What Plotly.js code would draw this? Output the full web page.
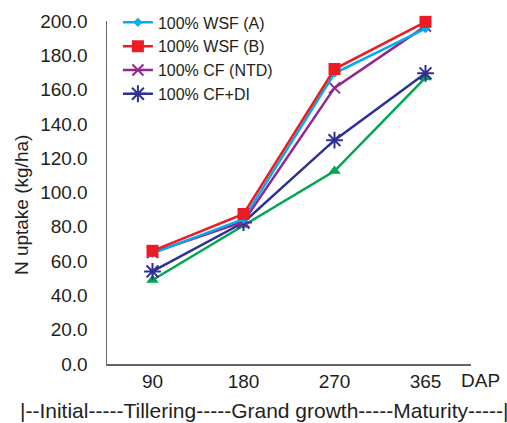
<!DOCTYPE html>
<html><head><meta charset="utf-8">
<script src="https://cdn.plot.ly/plotly-3.0.1.min.js"></script>
<style>html,body{margin:0;padding:0;background:#fff}</style>
</head><body>
<div id="chart" style="width:507px;height:423px"></div>
<script>
const categories = ['90', '180', '270', '365'];
const wsfA = [64.5, 84.5, 169.5, 195.5];
const wsfB = [66, 87.5, 172, 199.5];
const cfNTD = [65, 83, 161, 197];
const cfDI = [54, 82.5, 130.5, 169.5];
const unlabeled = [49, 81, 112.5, 167];
const seriesNames = ['100% WSF (A)', '100% WSF (B)', '100% CF (NTD)', '100% CF+DI'];
const yTitle = 'N uptake (kg/ha)';
const dapLabel = 'DAP';
const stageLabel = '|--Initial-----Tillering-----Grand growth-----Maturity-----|';

const txt = '#231f20';
const fam = 'Liberation Sans, Arial, sans-serif';
const font = {family: fam, size: 19, color: txt};

function tr(y, name, color, symbol, size, show, rank, mline) {
  return {x: categories, y: y, name: name, type: 'scatter', mode: 'lines+markers',
    showlegend: show, legendrank: rank, cliponaxis: false,
    line: {color: color, width: 2.5},
    marker: {color: color, symbol: symbol, size: size, line: {color: color, width: mline || 0}}};
}
const data = [
  tr(unlabeled, 'series 5', '#00A651', 'triangle-up', 11, false, 5),
  tr(cfDI, seriesNames[3], '#2E3192', 'asterisk-open', 14, true, 4, 2),
  tr(cfNTD, seriesNames[2], '#92278F', 'x-thin-open', 11, true, 3, 2),
  tr(wsfA, seriesNames[0], '#00AEEF', 'diamond', 7, true, 1),
  tr(wsfB, seriesNames[1], '#ED1C24', 'square', 12, true, 2)
];
const layout = {
  width: 507, height: 423,
  margin: {l: 107, r: 36, t: 0, b: 59},
  paper_bgcolor: '#fff', plot_bgcolor: '#fff',
  font: font,
  showlegend: true,
  legend: {x: 0.03, y: 0.985, xanchor: 'left', yanchor: 'top',
    bgcolor: 'rgba(0,0,0,0)',
    font: {family: fam, size: 16, color: txt}, traceorder: 'normal', tracegroupgap: 0,
    itemwidth: 30},
  xaxis: {type: 'category', range: [-0.5, 3.5], showgrid: false, zeroline: false,
    showline: true, linecolor: '#666', linewidth: 1.5, ticks: '', tickfont: font},
  yaxis: {domain: [0, 343 / 364], range: [0, 200], dtick: 20, tickformat: '.1f', showgrid: false, zeroline: false,
    showline: true, linecolor: '#666', linewidth: 1.5, ticks: '', tickfont: font,
    ticklabelstandoff: 14},
  annotations: [
    {text: yTitle, xref: 'paper', yref: 'paper', x: -0.233, y: 0.437, textangle: -90, xanchor: 'center', yanchor: 'middle', showarrow: false, font: font},
    {text: dapLabel, xref: 'paper', yref: 'paper', x: 1.025, y: -0.045, xanchor: 'center', yanchor: 'middle', showarrow: false, font: font},
    {text: stageLabel, xref: 'paper', yref: 'paper', x: 0.431, y: -0.127, xanchor: 'center', yanchor: 'middle', showarrow: false, font: {family: fam, size: 21, color: txt}}
  ]
};
Plotly.newPlot('chart', data, layout, {displayModeBar: false, staticPlot: true});
</script>
</body></html>
